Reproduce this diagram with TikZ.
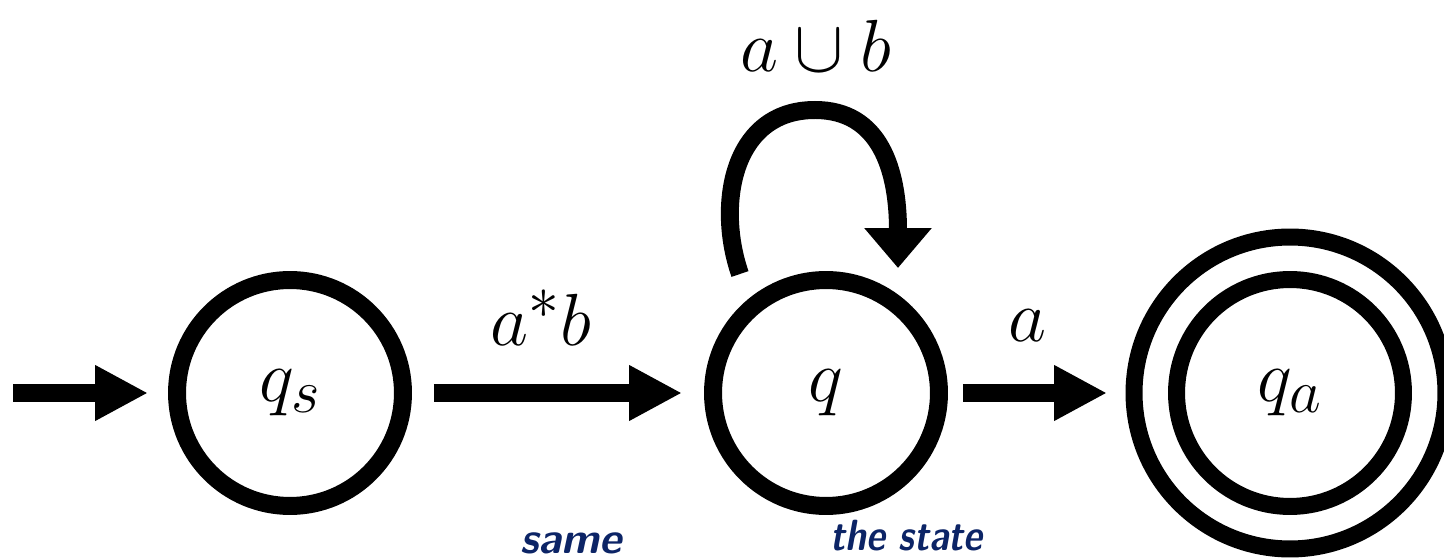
\documentclass[tikz,border=0pt]{standalone}
\usetikzlibrary{arrows.meta}
\definecolor{ink}{RGB}{12,36,102}
\begin{document}
\begin{tikzpicture}[x=0.02cm,y=-0.02cm,
  state/.style={circle,draw,line width=0.36cm,minimum size=4.52cm,inner sep=0pt,outer sep=0pt},
  acc/.style={circle,draw,line width=0.34cm,minimum size=6.24cm,inner sep=0pt,outer sep=0pt},
  conn/.style={line width=0.36cm,-{Triangle[length=1.06cm,width=1.04cm]}},
  lbl/.style={font=\Huge,scale=1.69,transform shape,inner sep=0pt},
  hand/.style={font=\Huge\sffamily\itshape\bfseries,text=ink,anchor=base west,inner sep=0pt}]
\clip (0,0) rectangle (1444,560);
\useasboundingbox (0,0) rectangle (1444,560);
\node[state] (qs) at (290,393) {};
\node[lbl] at (qs) {$q_s$};
\node[state] (q) at (826,393) {};
\node[lbl] at (q) {$q$};
\node[acc] (qa) at (1290,393) {};
\node[circle,draw,line width=0.34cm,minimum size=4.54cm,inner sep=0pt,outer sep=0pt] (qai) at (qa) {};
\node[lbl] at (qa) {$q_a$};
\coordinate (in) at (13,393);
\draw[conn,shorten >=0.58cm] (in) -- (qs);
\draw[conn,shorten <=0.62cm,shorten >=0.62cm] (qs) -- (q);
\draw[conn,shorten <=0.48cm,shorten >=0.54cm] (q) -- (qa);
\node[lbl] (l1) at (541,318) {$a^{*}b$};
\node[lbl] (l2) at (1027,326) {$a$};
\node[lbl] (l3) at (816,46) {$a\cup b$};
\coordinate (ls) at (740,274);
\coordinate (le) at (898,268);
\draw[line width=0.36cm,-{Triangle[length=0.8cm,width=1.3cm]}]
  (ls) .. controls (716,205) and (732,110) .. (815,110)
       .. controls (880,110) and (898,170) .. (le);
\node[hand] (h1) at (520,553) {same};
\node[hand,xscale=0.85,transform shape] (h2) at (830,550) {the state};
\end{tikzpicture}
\end{document}
